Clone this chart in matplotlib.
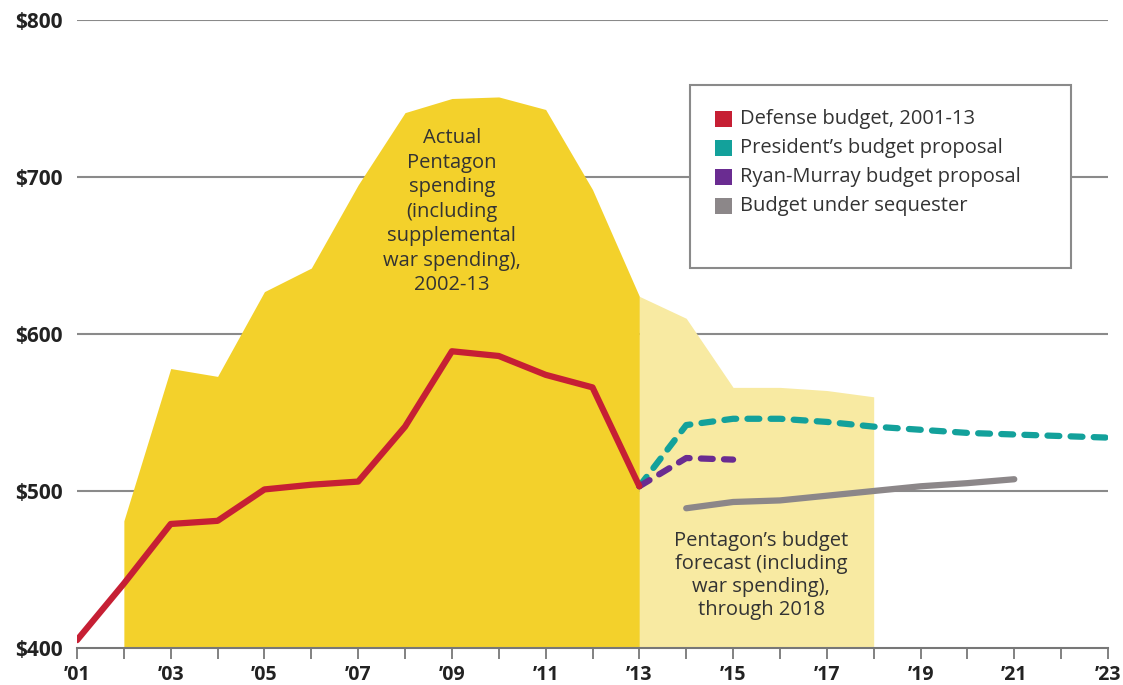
import matplotlib.pyplot as plt
from matplotlib.patches import Rectangle

plt.rcParams['font.family'] = ['Open Sans', 'DejaVu Sans']

# actual pentagon spending incl. war, 2002-13 (billions)
actual_years = list(range(2002, 2014))
actual_vals = [481, 578, 573, 627, 642, 695, 741, 750, 751, 743, 692, 624]

# forecast incl. war spending, 2013-18
fc_years = list(range(2013, 2019))
fc_vals = [624, 610, 566, 566, 564, 560]

# defense budget, 2001-13
def_years = list(range(2001, 2014))
def_vals = [405, 441, 479, 481, 501, 504, 506, 541, 589, 586, 574, 566, 503]

# president's proposal
pres_years = list(range(2013, 2024))
pres_vals = [503, 542, 546, 546, 544, 541, 539, 537, 536, 535, 534]

# ryan-murray
rm_years = [2013, 2014, 2015]
rm_vals = [503, 521, 520]

# sequester
seq_years = list(range(2014, 2022))
seq_vals = [489, 493, 494, 497, 500, 503, 505, 507.5]

yticks = [400, 500, 600, 700, 800]
xticks = list(range(2001, 2024, 2))
xlabels = ["\u2019%02d" % (y % 100) for y in xticks]

red = '#c61f34'
teal = '#13a19b'
purple = '#6a2c91'
gray = '#8c8789'
yellow = '#f3d12b'
lightyellow = '#f8eaa2'

fig = plt.figure(figsize=(11.23, 6.85), dpi=100)
ax = fig.add_axes([77 / 1123, 37 / 685, 1031 / 1123, 628 / 685])

for v in yticks[1:]:
    ax.axhline(v, color='#8a8a8a', lw=1.5, zorder=1)

ax.fill_between(actual_years, 400, actual_vals, color=yellow, lw=0, zorder=2)
ax.fill_between(fc_years, 400, fc_vals, color=lightyellow, lw=0, zorder=2)

dash = (0, (1.9, 1.8))
ax.plot(def_years, def_vals, color=red, lw=4.5, solid_capstyle='round',
        solid_joinstyle='round', zorder=5)
ax.plot(pres_years, pres_vals, color=teal, lw=4.5, ls=dash,
        dash_capstyle='round', zorder=4)
ax.plot(rm_years, rm_vals, color=purple, lw=4.5, ls=dash,
        dash_capstyle='round', zorder=4)
ax.plot(seq_years, seq_vals, color=gray, lw=4.5, solid_capstyle='round', zorder=4)

ax.set_xlim(2001, 2023)
ax.set_ylim(400, 800)
for s in ['top', 'right', 'left']:
    ax.spines[s].set_visible(False)
ax.spines['bottom'].set_color('#777777')
ax.spines['bottom'].set_linewidth(1.5)
ax.spines['bottom'].set_zorder(6)

ax.set_xticks(range(2001, 2024), minor=False)
ax.set_xticklabels([xlabels[xticks.index(y)] if y in xticks else '' for y in range(2001, 2024)],
                   fontsize=14, fontweight='bold', color='#222222')
ax.tick_params(axis='x', direction='out', length=8, width=1.3, color='#777777', pad=4)
ax.set_yticks(yticks)
ax.set_yticklabels(['$%d' % v for v in yticks], fontsize=15, fontweight='bold', color='#222222')
ax.tick_params(axis='y', length=0, pad=10)

ax.text(2009.0, 678, "Actual\nPentagon\nspending\n(including\nsupplemental\nwar spending),\n2002-13",
        ha='center', va='center', fontsize=14.5, linespacing=1.3, color='#333333', zorder=7)
ax.text(2015.6, 446, "Pentagon\u2019s budget\nforecast (including\nwar spending),\nthrough 2018",
        ha='center', va='center', fontsize=14.5, linespacing=1.2, color='#333333', zorder=7)

# legend box
box = Rectangle((690 / 1123, 1 - 268 / 685), (1071 - 690) / 1123, (268 - 85) / 685,
                transform=fig.transFigure, facecolor='white', edgecolor='#8a8a8a',
                lw=1.5, zorder=10)
fig.patches.append(box)
labels = ['Defense budget, 2001-13', 'President\u2019s budget proposal',
          'Ryan-Murray budget proposal', 'Budget under sequester']
colors = [red, teal, purple, gray]
for i, (lab, c) in enumerate(zip(labels, colors)):
    yc = 119 + i * 29
    fig.patches.append(Rectangle((715 / 1123, 1 - (yc + 8) / 685), 17 / 1123, 16 / 685,
                                 transform=fig.transFigure, facecolor=c, lw=0, zorder=11))
    fig.text(740 / 1123, 1 - yc / 685, lab, fontsize=14.5, color='#333333',
             va='center', ha='left', zorder=12)

fig.savefig('out.png', dpi=100)
